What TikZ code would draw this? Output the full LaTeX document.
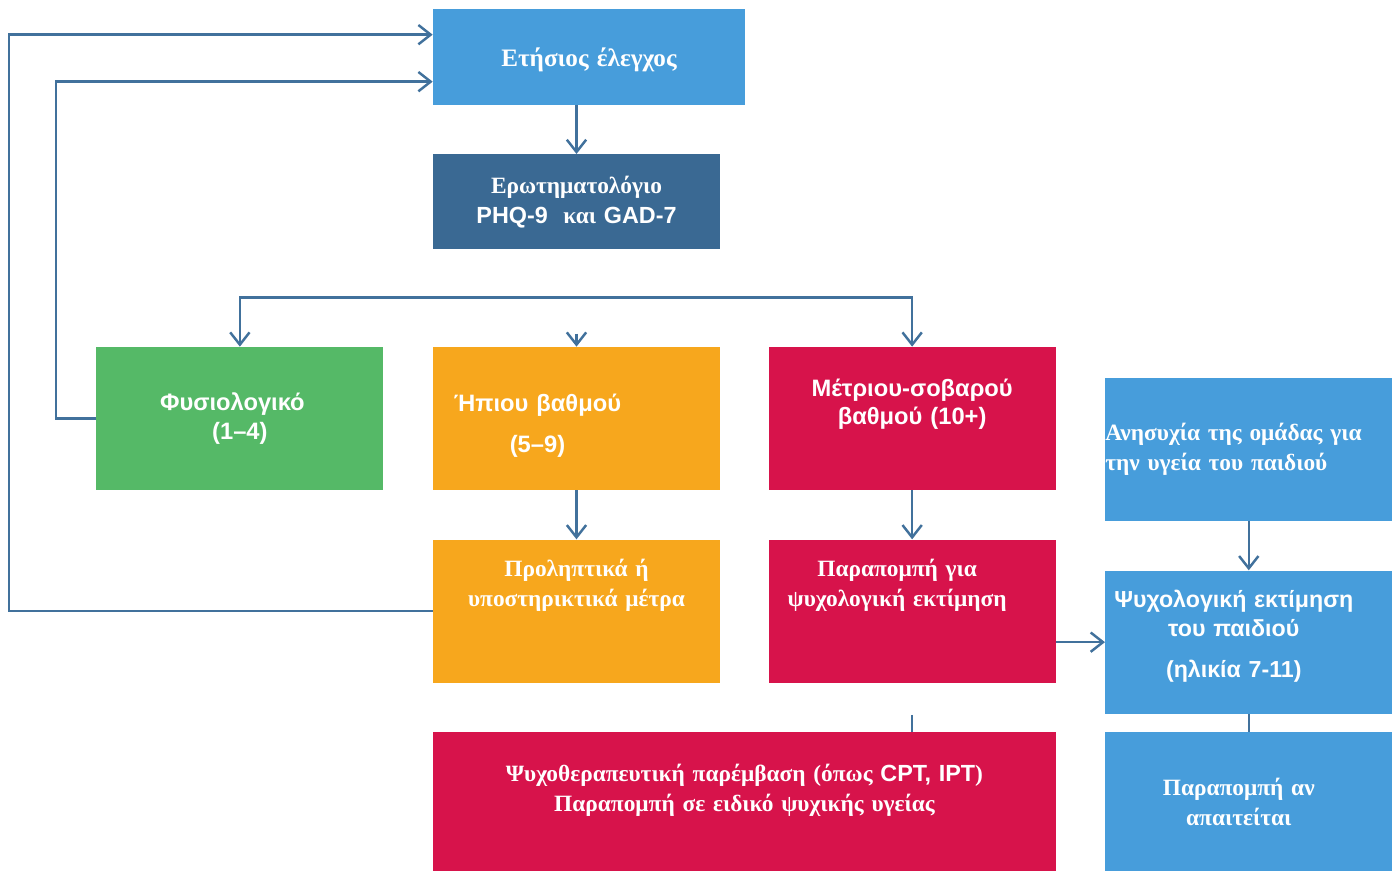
\documentclass[tikz,border=0pt]{standalone}
\usepackage{fontspec}
\setmainfont{Liberation Serif}
\setsansfont{Liberation Sans}
\usetikzlibrary{positioning,arrows.meta}

\definecolor{skyblue}{HTML}{479DDB}
\definecolor{steelblue}{HTML}{3A6993}
\definecolor{leafgreen}{HTML}{55B967}
\definecolor{amber}{HTML}{F7A71D}
\definecolor{crimson}{HTML}{D7134B}
\definecolor{linkblue}{HTML}{41719C}

\begin{document}
\begin{tikzpicture}[x=0.02cm, y=-0.02cm, node distance=0.98cm,
    box/.style={rectangle, inner sep=0pt, text=white, align=center, text width=5.74cm, minimum height=2.86cm, font=\bfseries\fontsize{13.3}{17}\selectfont},
    sans/.style={font=\sffamily\bfseries\fontsize{13.5}{16.5}\selectfont},
    flow/.style={-{Straight Barb[length=7pt,width=11pt]}, line width=1.4pt, draw=linkblue},
    link/.style={line width=1.4pt, draw=linkblue}]
    \useasboundingbox (0,0) rectangle (1393,871);

    % Κόμβοι (κουτιά)
    \node (mild) [box, sans, fill=amber, text height=1.28cm, text depth=1.58cm] at (576.5,418.5) {\hspace*{-1.56cm}Ήπιου βαθμού\\[7pt]\hspace*{-1.56cm}(5–9)};

    \node (normal) [box, sans, fill=leafgreen, left=of mild] {\hspace*{-0.3cm}Φυσιολογικό\\(1–4)};

    \node (moderate) [box, sans, fill=crimson, right=0.96cm of mild, text height=0.98cm, text depth=1.88cm] {Μέτριου-σοβαρού\\βαθμού (10+)};

    \node (quest) [box, fill=steelblue, minimum height=1.9cm, above=1.94cm of mild] {Ερωτηματολόγιο\\{\sffamily PHQ-9}\ \ και {\sffamily GAD-7}};

    \node (annual) [box, fill=skyblue, text width=6.24cm, minimum height=1.92cm, above=of quest.north west, anchor=south west, font=\bfseries\fontsize{14.3}{17}\selectfont, text height=1.16cm, text depth=0.76cm] {Ετήσιος έλεγχος};

    \node (prevent) [box, fill=amber, below=of mild, text height=0.74cm, text depth=2.12cm] {Προληπτικά ή\\υποστηρικτικά μέτρα};

    \node (referral) [box, fill=crimson, below=of moderate, text height=0.74cm, text depth=2.12cm] {\hspace*{-0.6cm}Παραπομπή για\\\hspace*{-0.6cm}ψυχολογική εκτίμηση};

    \node (concern) [box, fill=skyblue, align=left, right=of moderate, yshift=-0.62cm] {Ανησυχία της ομάδας για\\την υγεία του παιδιού};

    \node (psych) [box, sans, fill=skyblue, below=of concern, text height=0.74cm, text depth=2.12cm, font=\sffamily\bfseries\fontsize{13.2}{16.5}\selectfont] {\hspace*{-0.6cm}Ψυχολογική εκτίμηση\\\hspace*{-0.6cm}του παιδιού\\[7pt]\hspace*{-0.6cm}(ηλικία 7-11)};

    \node (ifneeded) [box, fill=skyblue, minimum height=2.8cm, below=0.36cm of psych] {\hspace*{-0.4cm}Παραπομπή αν\\\hspace*{-0.4cm}απαιτείται};

    \node (bottom) [box, fill=crimson, text width=12.46cm, minimum height=2.8cm, below=of prevent.south west, anchor=north west, text height=0.98cm, text depth=1.82cm] {Ψυχοθεραπευτική παρέμβαση (όπως {\sffamily CPT, IPT})\\Παραπομπή σε ειδικό ψυχικής υγείας};

    % Βοηθητικά σημεία
    \coordinate (split) at ([yshift=0.98cm]mild.north);
    \coordinate (midtip) at ([yshift=0.26cm]mild.north);
    \coordinate[yshift=0.34cm] (stub) at (moderate.south |- bottom.north);

    % Βέλη (συνδέσεις)
    \draw [flow] (quest.north |- annual.south) -- (quest.north);
    \draw [flow] (split) -| (normal.north);
    \draw [flow] (split) -| (moderate.north);
    \draw [flow] (midtip) -- (mild.north);
    \draw [flow] (mild) -- (prevent);
    \draw [flow] (moderate) -- (referral);
    \draw [flow] (referral.east |- psych.west) -- (psych.west);
    \draw [flow] (concern) -- (psych);
    \draw [link] (psych) -- (ifneeded);
    \draw [link] (stub) -- (stub |- bottom.north);

    % Επιστροφή στον ετήσιο έλεγχο
    \draw [flow] (normal.west) -- ++(-0.8cm,0) |- ([yshift=-0.5cm]annual.west);
    \draw [flow] (prevent.west) -- ++(-8.48cm,0) |- ([yshift=0.44cm]annual.west);
\end{tikzpicture}
\end{document}
